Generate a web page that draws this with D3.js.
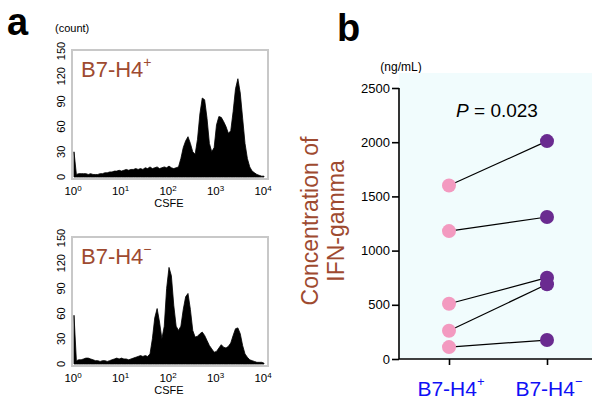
<!DOCTYPE html>
<html>
<head>
<meta charset="utf-8">
<script src="https://cdn.jsdelivr.net/npm/d3@7"></script>
<style>
  body { margin: 0; background: #fff; }
  text { font-family: "Liberation Sans", Arial, sans-serif; }
</style>
</head>
<body>
<svg id="chart" width="592" height="399"></svg>
<script>
// histogram bins: log10(CSFE) from 0 to 4, step 0.05
var binLogs = d3.range(0, 81).map(function (i) { return i / 20; });
var countsPos = [30, 3, 4, 4, 4, 4, 3, 4, 3, 3, 3, 4, 4, 5, 5, 6, 6, 7, 7, 8,
  7, 8, 9, 8, 9, 9, 10, 9, 10, 9, 11, 10, 12, 10, 11, 12, 10, 11, 12, 11,
  13, 11, 10, 11, 12, 22, 35, 43, 48, 40, 30, 27, 45, 75, 94, 92, 70, 40, 30, 35,
  62, 72, 71, 66, 60, 52, 55, 78, 105, 117, 100, 70, 40, 22, 12, 7, 5, 3, 2, 1, 1];
var countsNeg = [58, 4, 5, 5, 6, 7, 7, 6, 5, 4, 4, 3, 4, 4, 3, 4, 5, 6, 7, 6,
  7, 6, 6, 5, 6, 7, 8, 9, 10, 9, 10, 9, 12, 30, 55, 66, 50, 30, 45, 90,
  115, 105, 70, 45, 40, 45, 65, 80, 84, 65, 40, 32, 33, 36, 38, 34, 28, 22, 18, 14,
  15, 19, 23, 20, 19, 21, 25, 34, 42, 43, 36, 22, 12, 8, 5, 4, 3, 2, 2, 2, 1];
var countTicks = [0, 30, 60, 90, 120, 150];
var decadeTicks = [0, 1, 2, 3, 4];

// paired IFN-gamma values (ng/mL)
var groups = ["B7-H4+", "B7-H4-"];
var ifnPos = [1600, 1180, 510, 260, 110];
var ifnNeg = [2010, 1310, 750, 690, 175];
var ifnTicks = [0, 500, 1000, 1500, 2000, 2500];

var svg = d3.select("#chart");
var brown = "#9e4a30";

// ---------- panel a ----------
svg.append("text").attr("x", 7).attr("y", 35)
  .style("font-size", "38px").style("font-weight", "bold").text("a");
svg.append("text").attr("x", 55).attr("y", 32)
  .style("font-size", "11px").text("(count)");

function histogram(top, counts, sign) {
  var x = d3.scaleLinear().domain([0, 4]).range([74, 264]);
  var y = d3.scaleLinear().domain([0, 150]).range([top + 127, top + 1]);
  var g = svg.append("g");

  g.append("rect").attr("x", 72).attr("y", top).attr("width", 196).attr("height", 129)
    .attr("fill", "none").attr("stroke", "#c8c8c8").attr("stroke-width", 2);

  var area = d3.area()
    .x(function (d, i) { return x(binLogs[i]); })
    .y0(y(0))
    .y1(function (d) { return y(d); });
  g.append("path").datum(counts).attr("d", area).attr("fill", "#000")
    .attr("stroke", "#000").attr("stroke-width", 0.8);

  // left ticks
  g.selectAll(".yt").data(countTicks).enter().append("text")
    .attr("transform", function (d) { return "translate(65," + y(d) + ") rotate(-90)"; })
    .attr("text-anchor", "middle")
    .style("font-size", "11px").text(function (d) { return d; });

  var xl = g.selectAll(".xt").data(decadeTicks).enter().append("text")
    .attr("x", function (d) { return x(d) - 1; })
    .attr("y", top + 145)
    .attr("text-anchor", "middle")
    .style("font-size", "11.5px");
  xl.append("tspan").text("10");
  xl.append("tspan").attr("dy", -4).style("font-size", "8px").text(function (d) { return d; });

  g.append("text").attr("x", 169).attr("y", top + 157).attr("text-anchor", "middle")
    .style("font-size", "11px").text("CSFE");

  var lab = g.append("text").attr("x", 81).attr("y", top + 27)
    .attr("fill", brown).style("font-size", "22px");
  lab.append("tspan").text("B7-H4");
  lab.append("tspan").attr("dy", -10).style("font-size", "14px").text(sign);
}

histogram(50, countsPos, "+");
histogram(237, countsNeg, "\u2212");

// ---------- panel b ----------
svg.append("text").attr("x", 337).attr("y", 41)
  .style("font-size", "38px").style("font-weight", "bold").text("b");
svg.append("text").attr("x", 401).attr("y", 71).attr("text-anchor", "middle")
  .style("font-size", "12px").text("(ng/mL)");

var xb = d3.scalePoint().domain(groups).range([449, 547]);
var yb = d3.scaleLinear().domain([0, 2500]).range([359, 88]);

svg.append("rect").attr("x", 399).attr("y", 73).attr("width", 193).attr("height", 286)
  .attr("fill", "#f1fcfd");

var yAxis = svg.append("g").attr("transform", "translate(399,0)")
  .call(d3.axisLeft(yb).tickValues(ifnTicks).tickFormat(d3.format("d")).tickSize(7).tickPadding(2));
yAxis.select(".domain").attr("stroke-width", 1.6).attr("d", "M0,88V359");
yAxis.selectAll(".tick line").attr("stroke-width", 1.6);
yAxis.selectAll("text").style("font-size", "13px")
  .style("font-family", "'Liberation Sans', Arial, sans-serif");

var xAxis = svg.append("g").attr("transform", "translate(0,359)")
  .call(d3.axisBottom(xb).tickSize(6).tickFormat(""));
xAxis.select(".domain").attr("stroke-width", 1.6).attr("d", "M399,0H592");
xAxis.selectAll(".tick line").attr("stroke-width", 1.6);

groups.forEach(function (gname, i) {
  var t = svg.append("text").attr("x", xb(gname) + 2).attr("y", 396)
    .attr("text-anchor", "middle").attr("fill", "#1010f5").style("font-size", "21px");
  t.append("tspan").text("B7-H4");
  t.append("tspan").attr("dy", -10).style("font-size", "13px").text(i === 0 ? "+" : "\u2212");
});

// pair lines
ifnPos.forEach(function (v, i) {
  svg.append("line")
    .attr("x1", xb(groups[0])).attr("y1", yb(v))
    .attr("x2", xb(groups[1])).attr("y2", yb(ifnNeg[i]))
    .attr("stroke", "#000").attr("stroke-width", 1.2);
});
svg.selectAll(".dotPos").data(ifnPos).enter().append("circle")
  .attr("cx", xb(groups[0])).attr("cy", function (d) { return yb(d); })
  .attr("r", 7).attr("fill", "#f39ac0");
svg.selectAll(".dotNeg").data(ifnNeg).enter().append("circle")
  .attr("cx", xb(groups[1])).attr("cy", function (d) { return yb(d); })
  .attr("r", 7).attr("fill", "#6a2b90");

var p = svg.append("text").attr("x", 497).attr("y", 117).attr("text-anchor", "middle")
  .style("font-size", "19px");
p.append("tspan").style("font-style", "italic").text("P");
p.append("tspan").text(" = 0.023");

var yt = svg.append("text").attr("transform", "translate(318,221) rotate(-90)")
  .attr("text-anchor", "middle").attr("fill", brown).style("font-size", "23px");
yt.append("tspan").attr("x", 0).attr("y", 0).text("Concentration of");
yt.append("tspan").attr("x", 0).attr("y", 26).text("IFN-gamma");
</script>
</body>
</html>
